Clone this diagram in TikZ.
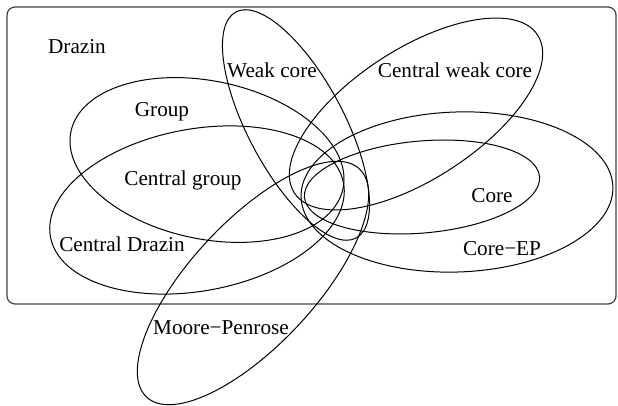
\documentclass[tikz,border=0pt]{standalone}
\usepackage{fontspec}
\setmainfont{Liberation Serif}
\begin{document}
\begin{tikzpicture}[x=0.5pt,y=-0.5pt,
  venn/.style={draw=black,line width=0.5pt},
  lbl/.style={anchor=base,inner sep=0pt,font=\fontsize{10.6}{12}\selectfont}]
\useasboundingbox (0,0) rectangle (618,406);
% universe
\draw[line width=0.6pt,draw=black!75,rounded corners=4pt] (7,7) rectangle (616,304);
% ellipses
\draw[venn,rotate around={-11.8:(207,160)}] (207,160) ellipse [x radius=139,y radius=79];  % Group
\draw[venn,rotate around={10.4:(197,210)}] (197,210) ellipse [x radius=149,y radius=81];   % Central Drazin
\draw[venn,rotate around={-62:(296,125)}] (296,125) ellipse [x radius=128,y radius=48];    % Weak core
\draw[venn,rotate around={33:(416,114)}] (416,114) ellipse [x radius=145,y radius=65];     % Central weak core
\draw[venn,rotate around={2:(457,192)}] (457,192) ellipse [x radius=156,y radius=80];      % Core-EP
\draw[venn,rotate around={5:(422,187)}] (422,187) ellipse [x radius=118,y radius=46];      % Core
\draw[venn,rotate around={47:(253,283)}] (253,283) ellipse [x radius=156,y radius=62];     % Moore-Penrose
% labels
\node[lbl] (drazin) at (77,54) {Drazin};
\node[lbl] (weak) at (272,78) {Weak core};
\node[lbl] (cweak) at (455,78) {Central weak core};
\node[lbl] (group) at (162,117) {Group};
\node[lbl] (cgroup) at (183,186) {Central group};
\node[lbl] (core) at (492,203) {Core};
\node[lbl] (cdrazin) at (122,252) {Central Drazin};
\node[lbl] (coreep) at (502,256) {Core−EP};
\node[lbl] (mp) at (221,335) {Moore−Penrose};
\end{tikzpicture}
\end{document}
